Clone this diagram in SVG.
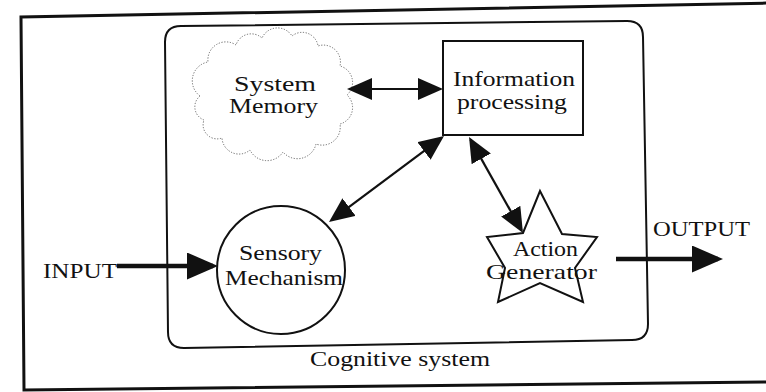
<svg xmlns="http://www.w3.org/2000/svg" width="766" height="392" viewBox="0 0 766 392">
  <style>
    .lbl { font-family: "Liberation Serif", "DejaVu Serif", "Times New Roman", serif; font-size: 21px; fill: #111; }
    .shape { fill: #fff; stroke: #111; stroke-width: 2; }
    .wire { fill: none; stroke: #111; stroke-width: 2.2; }
    .thick { fill: none; stroke: #111; stroke-width: 4.5; }
  </style>
  <defs>
    <marker id="tip" viewBox="0 0 25 22" refX="22" refY="11" markerWidth="25" markerHeight="22" markerUnits="userSpaceOnUse" orient="auto-start-reverse">
      <path d="M0,0 L25,11 L0,22 Z" fill="#111"/>
    </marker>
    <marker id="tipBig" viewBox="0 0 31 27" refX="26" refY="13.5" markerWidth="31" markerHeight="27" markerUnits="userSpaceOnUse" orient="auto">
      <path d="M0,0 L31,13.5 L0,27 Z" fill="#111"/>
    </marker>
  </defs>

  <rect width="766" height="392" fill="#fff"/>

  <!-- outer frame (slightly skewed) -->
  <g id="frame">
    <path d="M772,3 L21,17 L24,390 L772,382" fill="none" stroke="#111" stroke-width="3"/>
  </g>

  <!-- cognitive system boundary -->
  <g id="cognitive-system">
    <path d="M165,42 Q165,26 181,26 L627,21 Q643,21 643,37 L648,324 Q648,340 632,340 L184,348 Q168,348 168,332 Z" fill="none" stroke="#111" stroke-width="2"/>
    <text class="lbl" x="310" y="366" textLength="180" lengthAdjust="spacingAndGlyphs">Cognitive system</text>
  </g>

  <!-- system memory cloud -->
  <g id="system-memory">
    <path d="M200,96 A19,19 0 0 1 208,62 A18,18 0 0 1 236,45 A16,16 0 0 1 262,38 A17,17 0 0 1 292,36 A16,16 0 0 1 318,46 A17,17 0 0 1 340,66 A17,17 0 0 1 347,95 A17,17 0 0 1 340,124 A18,18 0 0 1 316,144 A19,19 0 0 1 283,152 A19,19 0 0 1 250,150 A17,17 0 0 1 222,138 A14,14 0 0 1 204,120 A14,14 0 0 1 200,96 Z" fill="none" stroke="#666" stroke-width="1" stroke-dasharray="1.2 1.6"/>
    <text class="lbl" x="234" y="91" textLength="82" lengthAdjust="spacingAndGlyphs">System</text>
    <text class="lbl" x="229" y="113" textLength="89" lengthAdjust="spacingAndGlyphs">Memory</text>
  </g>

  <!-- information processing box -->
  <g id="information-processing">
    <rect class="shape" x="443" y="41" width="140" height="94"/>
    <text class="lbl" x="453" y="86" textLength="122" lengthAdjust="spacingAndGlyphs">Information</text>
    <text class="lbl" x="457" y="109" textLength="110" lengthAdjust="spacingAndGlyphs">processing</text>
  </g>

  <!-- sensory mechanism circle -->
  <g id="sensory-mechanism">
    <circle class="shape" cx="281" cy="270" r="64"/>
    <text class="lbl" x="239" y="260" textLength="83" lengthAdjust="spacingAndGlyphs">Sensory</text>
    <text class="lbl" x="225" y="285" textLength="118" lengthAdjust="spacingAndGlyphs">Mechanism</text>
  </g>

  <!-- action generator star -->
  <g id="action-generator">
    <path class="shape" d="M540,191 L562,234 L597,237 L575,268 L583,302 L540,283 L498,302 L505,268 L487,237 L523,233 Z"/>
    <text class="lbl" x="513" y="256" textLength="65" lengthAdjust="spacingAndGlyphs">Action</text>
    <text class="lbl" x="486" y="279" textLength="111" lengthAdjust="spacingAndGlyphs">Generator</text>
  </g>

  <g id="input">
    <text class="lbl" x="43" y="278" textLength="74" lengthAdjust="spacingAndGlyphs">INPUT</text>
  </g>

  <g id="output">
    <text class="lbl" x="653" y="236" textLength="97" lengthAdjust="spacingAndGlyphs">OUTPUT</text>
  </g>

  <!-- connectors -->
  <g id="connectors">
    <line class="wire" x1="350" y1="89" x2="440" y2="89" marker-start="url(#tip)" marker-end="url(#tip)"/>
    <line class="wire" x1="331.4" y1="220.2" x2="441.6" y2="137.8" marker-start="url(#tip)" marker-end="url(#tip)"/>
    <line class="wire" x1="470.5" y1="139.6" x2="521.5" y2="230.4" marker-start="url(#tip)" marker-end="url(#tip)"/>
    <line class="thick" x1="117" y1="266" x2="213" y2="266" marker-end="url(#tipBig)"/>
    <line class="thick" x1="616" y1="259" x2="718" y2="259" marker-end="url(#tipBig)"/>
  </g>
</svg>
